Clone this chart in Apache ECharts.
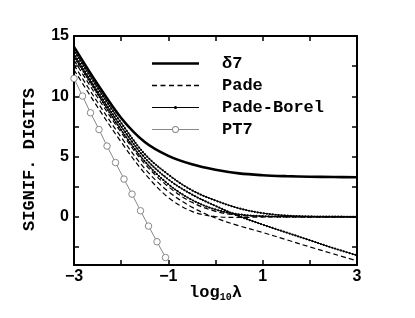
<!DOCTYPE html>
<html>
<head>
<meta charset="utf-8">
<script src="https://cdn.jsdelivr.net/npm/echarts@6/dist/echarts.min.js"></script>
<style>html,body{margin:0;padding:0;background:#fff}#c{width:415px;height:318px}</style>
</head>
<body>
<div id="c"></div>
<script>
// x positions (log10 lambda) for the smooth curves
const xs = [-3, -2.5, -2, -1.5, -1, -0.5, 0, 0.5, 1, 1.5, 2, 2.5, 3];
// delta-7 (thick solid)
const delta7 = [14.1, 11.0, 8.2, 6.2, 5.05, 4.35, 3.9, 3.6, 3.45, 3.37, 3.32, 3.3, 3.28];
// Pade (dashed) curves
const pade1 = [13.0, 9.9, 7.0, 4.4, 2.5, 1.2, 0.45, 0.12, 0.03, 0.01, 0, 0, 0];
const pade2 = [12.6, 9.5, 6.6, 4.0, 2.1, 0.8, -0.1, -0.75, -1.3, -1.9, -2.5, -3.08, -3.65];
const pade3 = [12.2, 9.1, 6.2, 3.6, 1.6, 0.45, 0.02, -0.05, -0.02, 0, 0, 0, 0];
// Pade-Borel (dotted) curves
const padeBorel1 = [13.8, 10.7, 7.8, 5.2, 3.5, 2.2, 1.35, 0.7, 0.3, 0.1, 0.03, 0.01, 0];
const padeBorel2 = [13.5, 10.4, 7.5, 4.9, 3.1, 1.85, 0.9, 0.05, -0.65, -1.3, -1.95, -2.6, -3.2];
const padeBorel3 = [13.3, 10.2, 7.2, 4.6, 2.7, 1.4, 0.6, 0.2, 0.05, 0.01, 0, 0, 0];
// PT7 (grey with open circles)
const pt7X = [-3, -2.82, -2.65, -2.47, -2.30, -2.12, -1.94, -1.77, -1.59, -1.42, -1.24, -1.06];
const pt7Y = [11.48, 10.02, 8.63, 7.24, 5.87, 4.5, 3.13, 1.88, 0.5, -0.77, -2.07, -3.38];
// ticks
const yTickLabels = [0, 5, 10, 15];
const yTickAll = [-2.5, 0, 2.5, 5, 7.5, 10, 12.5, 15];
const legendNames = ['δ7', 'Pade', 'Pade-Borel', 'PT7'];

const zip = (a, b) => a.map((v, i) => [v, b[i]]);
const fmt = v => String(v).replace('-', '\u2212');
const MONO = '"Liberation Mono", "Courier New", monospace';
const SANS = '"Liberation Sans", Arial, sans-serif';

// legend icon shapes (47 x 7 box)
const ICON_SOLID = 'path://M0,0 L47,0 L47,2.6 L0,2.6 Z';
const ICON_DASH = 'path://M0,0h5v1.3h-5z M8.5,0h5v1.3h-5z M17,0h5v1.3h-5z M25.5,0h5v1.3h-5z M34,0h5v1.3h-5z M42,0h5v1.3h-5z';
const ICON_PB = 'path://M0,1.1h47v1h-47z M23.5,0 a1.6,1.6 0 1,1 -0.01,0 z';
const ICON_PT = 'path://M0,3h20v1h-20z M27,3h20v1h-20z M27,3.5 A3.5,3.5 0 1,0 20,3.5 A3.5,3.5 0 1,0 27,3.5 Z M26,3.5 A2.5,2.5 0 1,1 21,3.5 A2.5,2.5 0 1,1 26,3.5 Z';

const chart = echarts.init(document.getElementById('c'), null, {renderer: 'canvas'});

const padeStyle = {color: '#000', width: 1.2, type: [5, 3]};
const pbStyle = {color: '#000', width: 1};
const dotStyle = {color: '#000', width: 2.2, type: [0, 3], cap: 'round'};

function lineSeries(name, data, ls) {
  return {
    type: 'line', name: name, data: data, smooth: 0.35,
    symbol: 'none', lineStyle: ls, itemStyle: {color: '#000'},
    animation: false, z: 3
  };
}

const series = [
  lineSeries('δ7', zip(xs, delta7), {color: '#000', width: 2.6}),
  lineSeries('Pade', zip(xs, pade1), padeStyle),
  lineSeries('Pade', zip(xs, pade2), padeStyle),
  lineSeries('Pade', zip(xs, pade3), padeStyle),
  lineSeries('Pade-Borel', zip(xs, padeBorel1), pbStyle),
  lineSeries('Pade-Borel', zip(xs, padeBorel2), pbStyle),
  lineSeries('Pade-Borel', zip(xs, padeBorel3), pbStyle),
  lineSeries('pbdots1', zip(xs, padeBorel1), dotStyle),
  lineSeries('pbdots2', zip(xs, padeBorel2), dotStyle),
  lineSeries('pbdots3', zip(xs, padeBorel3), dotStyle),
  {
    type: 'line', name: 'PT7', data: zip(pt7X, pt7Y), animation: false,
    symbol: 'circle', symbolSize: 6.5, showSymbol: true,
    lineStyle: {color: '#888', width: 1},
    itemStyle: {color: '#fff', borderColor: '#888', borderWidth: 1}, z: 4
  }
];

const legendIcons = [ICON_SOLID, ICON_DASH, ICON_PB, ICON_PT];
const legendColors = ['#000', '#000', '#000', '#888'];

const axisLine = {show: true, onZero: false, lineStyle: {color: '#000', width: 2}};
const tickStyle = {width: 1.5, color: '#000'};
const option = {
  animation: false,
  grid: {left: 74, right: 58, top: 36, bottom: 53},
  legend: {
    data: legendNames.map((n, i) => ({name: n, icon: legendIcons[i], itemStyle: {color: legendColors[i], borderWidth: 0}})),
    orient: 'vertical', left: 152, top: 55, padding: 0,
    itemWidth: 47, itemHeight: 14, itemGap: 5, selectedMode: false,
    textStyle: {fontFamily: MONO, fontWeight: 'bold', fontSize: 17, color: '#000', padding: [0, 0, 0, 18]}
  },
  xAxis: [{
    type: 'value', min: -3, max: 3, interval: 2, position: 'bottom',
    axisLine: axisLine,
    axisTick: {show: true, inside: true, length: 5, lineStyle: tickStyle},
    minorTick: {show: true, splitNumber: 2, length: 5, lineStyle: tickStyle},
    splitLine: {show: false},
    axisLabel: {formatter: fmt, fontFamily: SANS, fontWeight: 'bold', fontSize: 16, color: '#000', margin: 4},
    name: '{a|log}{s|10}{a|λ}', nameLocation: 'middle', nameGap: 19, nameMoveOverlap: false,
    nameTextStyle: {rich: {
      a: {fontFamily: MONO, fontWeight: 'bold', fontSize: 17, color: '#000'},
      s: {fontFamily: MONO, fontWeight: 'bold', fontSize: 10, color: '#000', verticalAlign: 'bottom', padding: [8, 0, 0, 0]}
    }}
  }, {
    type: 'value', min: -3, max: 3, interval: 2, position: 'top',
    axisLine: axisLine,
    axisTick: {show: true, inside: true, length: 5, lineStyle: tickStyle},
    minorTick: {show: true, splitNumber: 2, length: 5, lineStyle: tickStyle},
    splitLine: {show: false}, axisLabel: {show: false}
  }],
  yAxis: [{
    type: 'value', min: -4, max: 15, position: 'left',
    axisLine: axisLine,
    axisTick: {show: true, inside: true, length: 5, customValues: yTickAll, lineStyle: tickStyle},
    splitLine: {show: false},
    axisLabel: {customValues: yTickLabels, formatter: fmt, fontFamily: SANS, fontWeight: 'bold', fontSize: 16, color: '#000', margin: 5},
    name: 'SIGNIF. DIGITS', nameLocation: 'middle', nameRotate: 90, nameGap: 36, nameMoveOverlap: false,
    nameTextStyle: {fontFamily: MONO, fontWeight: 'bold', fontSize: 17, color: '#000', padding: [0, 18, 0, 0]}
  }, {
    type: 'value', min: -4, max: 15, position: 'right',
    axisLine: axisLine,
    axisTick: {show: true, inside: true, length: 5, customValues: yTickAll, lineStyle: tickStyle},
    splitLine: {show: false}, axisLabel: {show: false}
  }],
  series: series
};
chart.setOption(option);
</script>
</body>
</html>
